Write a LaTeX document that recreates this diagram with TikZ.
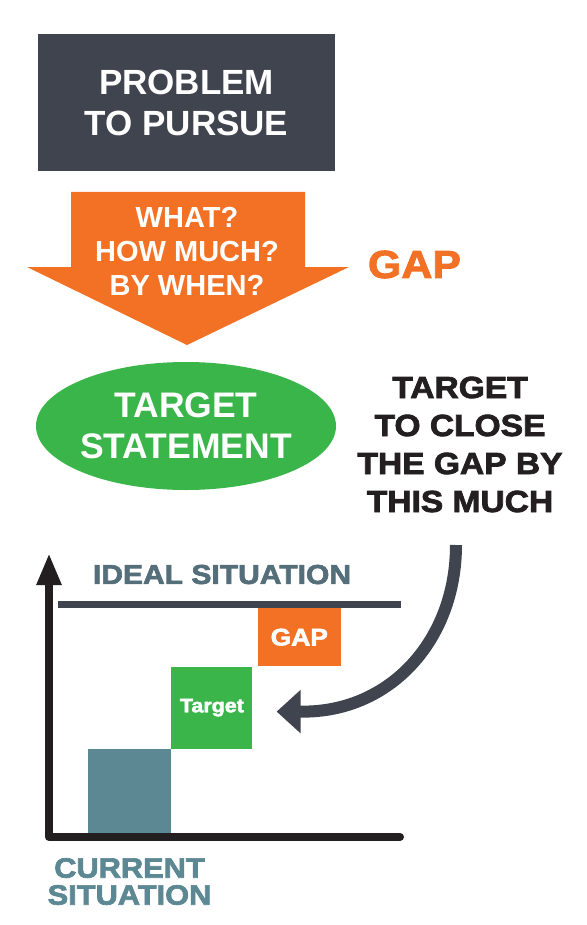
\documentclass[tikz,border=0pt]{standalone}
\usepackage{fontspec}
\setmainfont{Liberation Sans}
\newfontfamily\heavyfont{Liberation Sans Bold}[FakeBold=2.5,FakeStretch=1.1]
\usepackage{tikz}
\usetikzlibrary{shapes,arrows.meta,positioning}
\definecolor{slatedark}{RGB}{64,68,79}
\definecolor{gaporange}{RGB}{243,113,36}
\definecolor{targetgreen}{RGB}{57,181,74}
\definecolor{idealgray}{RGB}{84,110,122}
\definecolor{currentteal}{RGB}{91,136,147}
\definecolor{inkblack}{RGB}{35,31,32}
\newcommand{\fsz}[2]{\fontsize{#1}{#2}\selectfont}
\tikzset{>=stealth}

\begin{document}
\begin{tikzpicture}[x=1pt, y=-1pt, every node/.style={inner sep=0pt, align=center},
    stepbox/.style={minimum width=#1, text=white}]
  \useasboundingbox (0,0) rectangle (586,925);
  \node[fill=slatedark, text=white, minimum width=297pt, minimum height=137pt,
        font=\bfseries\fsz{35}{41}] (problem) at (186.5,102.5) {PROBLEM\\TO PURSUE};
  \fill[gaporange] (71,192) -- (305,192) -- (305,267) -- (349,267) -- (187,345) -- (27,267) -- (71,267) -- cycle;
  \node[text=white, font=\bfseries\fsz{29}{34}] (questions) at (187,251.5) {WHAT?\\HOW MUCH?\\BY WHEN?};
  \node[text=gaporange, font=\heavyfont\fsz{39}{45}] (gapword) at (414.5,264.5) {GAP};
  \node[ellipse, fill=targetgreen, text=white, minimum width=300pt, minimum height=128pt,
        font=\bfseries\fsz{35.5}{41}] (statement) at (186,426) {TARGET\\STATEMENT};
  \node[text=inkblack, font=\heavyfont\fsz{30.5}{38}] (closegap) at (460,444.5) {TARGET\\TO CLOSE\\THE GAP BY\\THIS MUCH};

  \draw[inkblack, line width=8pt, line join=round, line cap=round, -{Triangle[width=23pt,length=32pt]}]
    (400,837) -- (49,837) -- (49,553);
  \node[text=idealgray, font=\heavyfont\fsz{27.3}{32}] (ideal) at (222,574.5) {IDEAL SITUATION};
  \draw[slatedark, line width=7pt] (58,604) -- (401,604);
  \node[fill=currentteal, minimum width=83pt, minimum height=84pt] (current) at (129.5,791) {};
  \node[fill=targetgreen, stepbox=81pt, minimum height=82pt, anchor=south west,
        font=\heavyfont\fsz{19.5}{22}] (target) at (current.north east) {Target};
  \node[fill=gaporange, stepbox=83pt, minimum height=58pt, anchor=south west,
        font=\heavyfont\fsz{24}{28}] (gapbox) at ([xshift=5pt]target.north east) {GAP};
  \node[text=currentteal, font=\heavyfont\fsz{28}{27}] (currentlabel) at (129.5,881.5) {CURRENT\\SITUATION};

  \coordinate (bendtop) at (456,545);
  \coordinate (bendend) at ([xshift=48pt,yshift=-4pt]target.east);
  \draw[slatedark, line width=12pt, -{Triangle[width=42pt,length=24pt]}]
    (bendtop) .. controls (456,640) and (390,713) .. (bendend) -- ([xshift=24pt,yshift=-4pt]target.east);
\end{tikzpicture}
\end{document}
